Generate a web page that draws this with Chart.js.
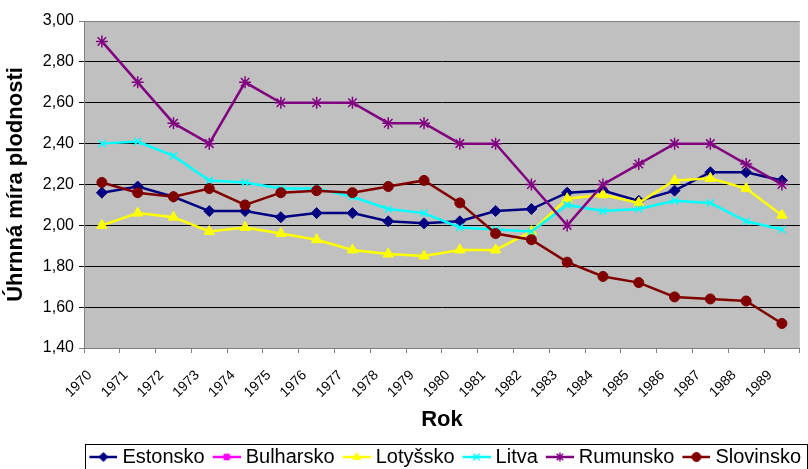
<!DOCTYPE html>
<html>
<head>
<meta charset="utf-8">
<script src="https://cdn.jsdelivr.net/npm/chart.js@4.4.1/dist/chart.umd.min.js"></script>
<style>
  html, body { margin: 0; padding: 0; background: #fff; }
  canvas { display: block; }
</style>
</head>
<body>
<canvas id="chart" width="808" height="469"></canvas>
<script>
// data
const years = ["1970", "1971", "1972", "1973", "1974", "1975", "1976", "1977", "1978", "1979",
               "1980", "1981", "1982", "1983", "1984", "1985", "1986", "1987", "1988", "1989"];

const estonsko  = [2.16, 2.19, 2.14, 2.07, 2.07, 2.04, 2.06, 2.06, 2.02, 2.01,
                   2.02, 2.07, 2.08, 2.16, 2.17, 2.12, 2.17, 2.26, 2.26, 2.22];
const bulharsko = [null, null, null, null, null, null, null, null, null, null,
                   null, null, null, null, null, null, null, null, null, null];
const lotyssko  = [2.00, 2.06, 2.04, 1.97, 1.99, 1.96, 1.93, 1.88, 1.86, 1.85,
                   1.88, 1.88, 1.97, 2.13, 2.15, 2.11, 2.22, 2.23, 2.18, 2.05];
const litva     = [2.40, 2.41, 2.34, 2.22, 2.21, 2.18, 2.18, 2.14, 2.08, 2.06,
                   1.99, 1.98, 1.97, 2.10, 2.07, 2.08, 2.12, 2.11, 2.02, 1.98];
const rumunsko  = [2.90, 2.70, 2.50, 2.40, 2.70, 2.60, 2.60, 2.60, 2.50, 2.50,
                   2.40, 2.40, 2.20, 2.00, 2.20, 2.30, 2.40, 2.40, 2.30, 2.20];
const slovinsko = [2.21, 2.16, 2.14, 2.18, 2.10, 2.16, 2.17, 2.16, 2.19, 2.22,
                   2.11, 1.96, 1.93, 1.82, 1.75, 1.72, 1.65, 1.64, 1.63, 1.52];

const yMin = 1.4, yMax = 3.0, yStep = 0.2;

Chart.defaults.font.family = "'Liberation Sans', Arial, sans-serif";
Chart.defaults.color = "#000";

function series(label, data, color, style, radius, bw, order) {
    return {
        label, data, order,
        borderColor: color,
        backgroundColor: color,
        borderWidth: 2.5,
        tension: 0,
        pointStyle: style,
        pointRadius: radius,
        pointHoverRadius: radius,
        pointBackgroundColor: color,
        pointBorderColor: color,
        pointBorderWidth: bw
    };
}

const datasets = [
    series("Estonsko",  estonsko,  "#000080", "rectRot",  5.5, 1,   6),
    series("Bulharsko", bulharsko, "#FF00FF", "rect",     4.5, 1,   5),
    series("Lotyšsko",  lotyssko,  "#FFFF00", "triangle", 6,   1,   4),
    series("Litva",     litva,     "#00FFFF", "crossRot", 5,   1.5, 3),
    series("Rumunsko",  rumunsko,  "#800080", "star",     6,   1.5, 2),
    series("Slovinsko", slovinsko, "#800000", "circle",   5,   1,   1)
];

// small line + marker pictures for the legend (left part of the picture stays empty)
function legendIcon(ds) {
    const c = document.createElement("canvas");
    c.width = 35;
    c.height = 14;
    const g = c.getContext("2d");
    g.strokeStyle = ds.borderColor;
    g.fillStyle = ds.borderColor;
    g.lineWidth = 2.5;
    g.beginPath();
    g.moveTo(7, 7);
    g.lineTo(35, 7);
    g.stroke();
    g.lineWidth = ds.pointBorderWidth;
    Chart.helpers.drawPoint(g, {
        pointStyle: ds.pointStyle,
        radius: Math.min(ds.pointRadius, 5) - 0.5,
        borderWidth: ds.pointBorderWidth,
        rotation: 0
    }, 21, 7);
    return c;
}
const icons = datasets.map(legendIcon);

const plotBackground = {
    id: "plotBackground",
    beforeDraw(chart) {
        const {ctx, chartArea: a} = chart;
        ctx.save();
        ctx.fillStyle = "#C0C0C0";
        ctx.fillRect(a.left, a.top, a.right - a.left, a.bottom - a.top);
        ctx.restore();
    }
};

const legendFrame = {
    id: "legendFrame",
    afterDraw(chart) {
        const boxes = chart.legend.legendHitBoxes;
        if (!boxes || !boxes.length) return;
        const first = boxes[0], last = boxes[boxes.length - 1];
        const ctx = chart.ctx;
        ctx.save();
        ctx.strokeStyle = "#000";
        ctx.lineWidth = 1;
        const left = Math.round(first.left - 2);
        ctx.strokeRect(left + 0.5, Math.round(first.top - 3) + 0.5,
                       Math.round(last.left + last.width + 6) - left, chart.height);
        ctx.restore();
    }
};

new Chart(document.getElementById("chart"), {
    type: "line",
    data: { labels: years, datasets },
    plugins: [plotBackground, legendFrame],
    options: {
        responsive: false,
        animation: false,
        layout: { padding: { left: 0, right: 1, top: 21, bottom: -8 } },
        plugins: {
            tooltip: { enabled: false },
            legend: {
                position: "bottom",
                align: "end",
                labels: {
                    usePointStyle: true,
                    pointStyleWidth: 25,
                    padding: 6,
                    font: { size: 20 },
                    color: "#000",
                    sort: (a, b) => a.datasetIndex - b.datasetIndex,
                    generateLabels(chart) {
                        return Chart.defaults.plugins.legend.labels.generateLabels(chart)
                            .map(item => Object.assign(item, { pointStyle: icons[item.datasetIndex] }));
                    }
                }
            }
        },
        scales: {
            x: {
                offset: true,
                grid: {
                    offset: true,
                    drawOnChartArea: false,
                    drawTicks: true,
                    tickLength: 5,
                    color: "#808080"
                },
                border: { display: true, color: "#808080", width: 1 },
                ticks: {
                    autoSkip: false,
                    minRotation: 45,
                    maxRotation: 45,
                    labelOffset: -12,
                    padding: 14,
                    font: { size: 14 }
                },
                title: {
                    display: true,
                    text: "Rok",
                    font: { size: 22, weight: "bold" },
                    padding: { top: 0, bottom: 8 }
                },
                afterFit(scale) { scale.height = 93; }
            },
            y: {
                min: yMin,
                max: yMax,
                grid: {
                    color: c => (c.tick && (c.tick.value >= yMax - 1e-6 || c.tick.value <= yMin + 1e-6)) ? "#808080" : "#000",
                    lineWidth: 1,
                    tickLength: 5
                },
                border: { display: true, color: "#808080", width: 1 },
                ticks: {
                    stepSize: yStep,
                    padding: 5,
                    font: { size: 16 },
                    callback: v => v.toFixed(2).replace(".", ",")
                },
                title: {
                    display: true,
                    text: "Úhrnná míra plodnosti",
                    font: { size: 22, weight: "bold" },
                    padding: { top: 3, bottom: 0 }
                },
                afterFit(scale) { scale.width = 84; }
            }
        }
    }
});
</script>
</body>
</html>
